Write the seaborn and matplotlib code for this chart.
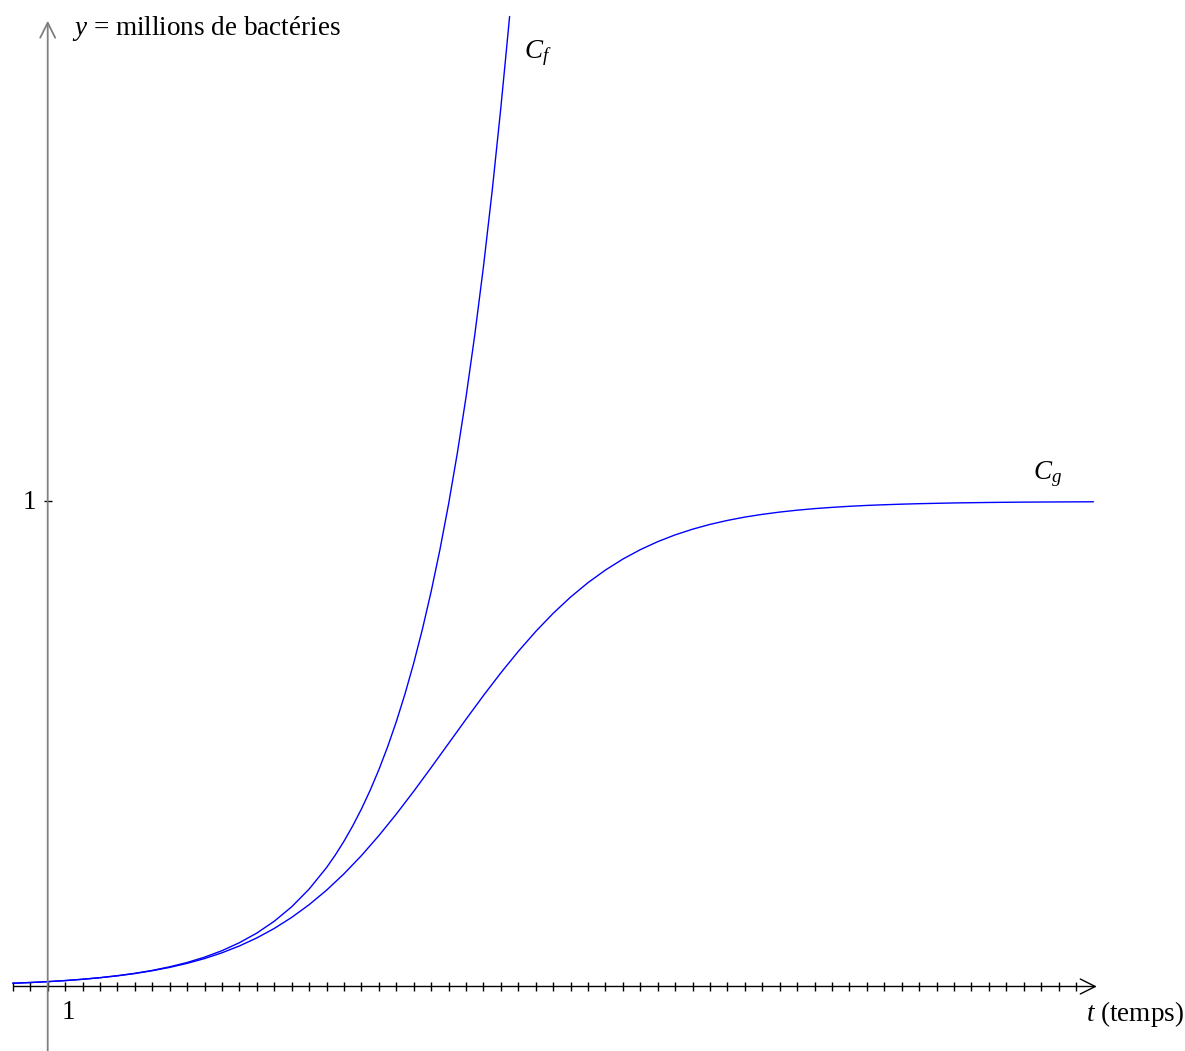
import numpy as np
import pandas as pd
import matplotlib
matplotlib.use('Agg')
import matplotlib.pyplot as plt
import seaborn as sns

# valeurs (t en unites, y en millions)
t_f = [-2, -1, 0, 1, 2, 3, 4, 5, 6, 7, 8, 9, 10, 11, 12, 13, 14, 15, 16, 16.5,
       17, 17.5, 18, 18.5, 19, 19.5, 20, 20.5, 21, 21.5, 22, 22.5, 23, 23.5,
       24, 24.5, 25, 25.5, 26, 26.25, 26.5]
y_f = [0.0067, 0.0082, 0.0100, 0.0122, 0.0149, 0.0182, 0.0223, 0.0272, 0.0332,
       0.0406, 0.0495, 0.0605, 0.0739, 0.0903, 0.1102, 0.1346, 0.1644, 0.2009,
       0.2453, 0.2711, 0.2996, 0.3312, 0.3660, 0.4045, 0.4470, 0.4940, 0.5460,
       0.6034, 0.6669, 0.7370, 0.8145, 0.9002, 0.9948, 1.0995, 1.2151, 1.3429,
       1.4841, 1.6402, 1.8127, 1.9057, 2.0]

t_g = [-2, -1, 0, 1, 2, 3, 4, 5, 6, 7, 8, 9, 10, 11, 12, 13, 14, 15, 16, 17,
       18, 19, 20, 21, 22, 23, 24, 25, 26, 27, 28, 29, 30, 31, 32, 33, 34, 35,
       36, 37, 38, 39, 40, 41, 42, 43, 44, 45, 46, 47, 48, 49, 50, 52, 54, 56,
       58, 60]
y_g = [0.0067, 0.0082, 0.0100, 0.0122, 0.0149, 0.0181, 0.0220, 0.0267, 0.0325,
       0.0394, 0.0477, 0.0576, 0.0695, 0.0836, 0.1002, 0.1197, 0.1425, 0.1687,
       0.1986, 0.2324, 0.2699, 0.3111, 0.3555, 0.4025, 0.4514, 0.5012, 0.5510,
       0.5999, 0.6468, 0.6910, 0.7320, 0.7694, 0.8030, 0.8327, 0.8587, 0.8813,
       0.9007, 0.9172, 0.9312, 0.9429, 0.9528, 0.9610, 0.9679, 0.9735, 0.9782,
       0.9821, 0.9853, 0.9879, 0.9901, 0.9919, 0.9933, 0.9945, 0.9955, 0.9970,
       0.9980, 0.9987, 0.9991, 0.9994]

x_ticks = list(range(-2, 60))
y_ticks = [1]

sns.set_theme(style="white")
plt.rcParams['font.family'] = ['Liberation Serif', 'DejaVu Serif']
plt.rcParams['text.color'] = 'black'
plt.rcParams['mathtext.fontset'] = 'custom'
plt.rcParams['mathtext.rm'] = 'Liberation Serif'
plt.rcParams['mathtext.it'] = 'Liberation Serif:italic'

df_f = pd.DataFrame({'t': t_f, 'y': y_f})
df_g = pd.DataFrame({'t': t_g, 'y': y_g})

fig = plt.figure(figsize=(11.85, 10.51), dpi=100)
ax = fig.add_axes([0, 0, 1, 1])
ax.set_xlim(-2.737, 65.25)
ax.set_ylim(-0.133, 2.034)
ax.axis('off')

# axes avec fleches
ax.annotate('', xy=(60.35, 0), xytext=(-2.1, 0),
            arrowprops=dict(arrowstyle='->,head_length=0.9,head_width=0.45',
                            color='black', lw=1))
ax.annotate('', xy=(0, 1.997), xytext=(0, -0.14),
            arrowprops=dict(arrowstyle='->,head_length=0.9,head_width=0.45',
                            color='#808080', lw=1.3))

# graduations
ax.vlines(x_ticks, -0.0095, 0.0095, color='black', lw=1)
ax.hlines(y_ticks, -0.23, 0.23, color='black', lw=1)

sns.lineplot(data=df_f, x='t', y='y', ax=ax, color='#0000ff', lw=1)
sns.lineplot(data=df_g, x='t', y='y', ax=ax, color='#0000ff', lw=1)

fs = 19.5
ax.text(1.394, 1.976, r'$y$ = millions de bactéries', fontsize=fs, ha='left', va='center')
ax.text(1.165, -0.0526, '1', fontsize=fs, ha='center', va='center')
ax.text(-0.67, 0.997, '1', fontsize=fs, ha='right', va='center')
ax.text(59.57, -0.0567, r'$t$ (temps)', fontsize=fs, ha='left', va='center')
ax.text(27.33, 1.925, r'$C_f$', fontsize=fs, ha='left', va='center')
ax.text(56.53, 1.057, r'$C_g$', fontsize=fs, ha='left', va='center')

plt.savefig('out.png', dpi=100)
plt.close()
